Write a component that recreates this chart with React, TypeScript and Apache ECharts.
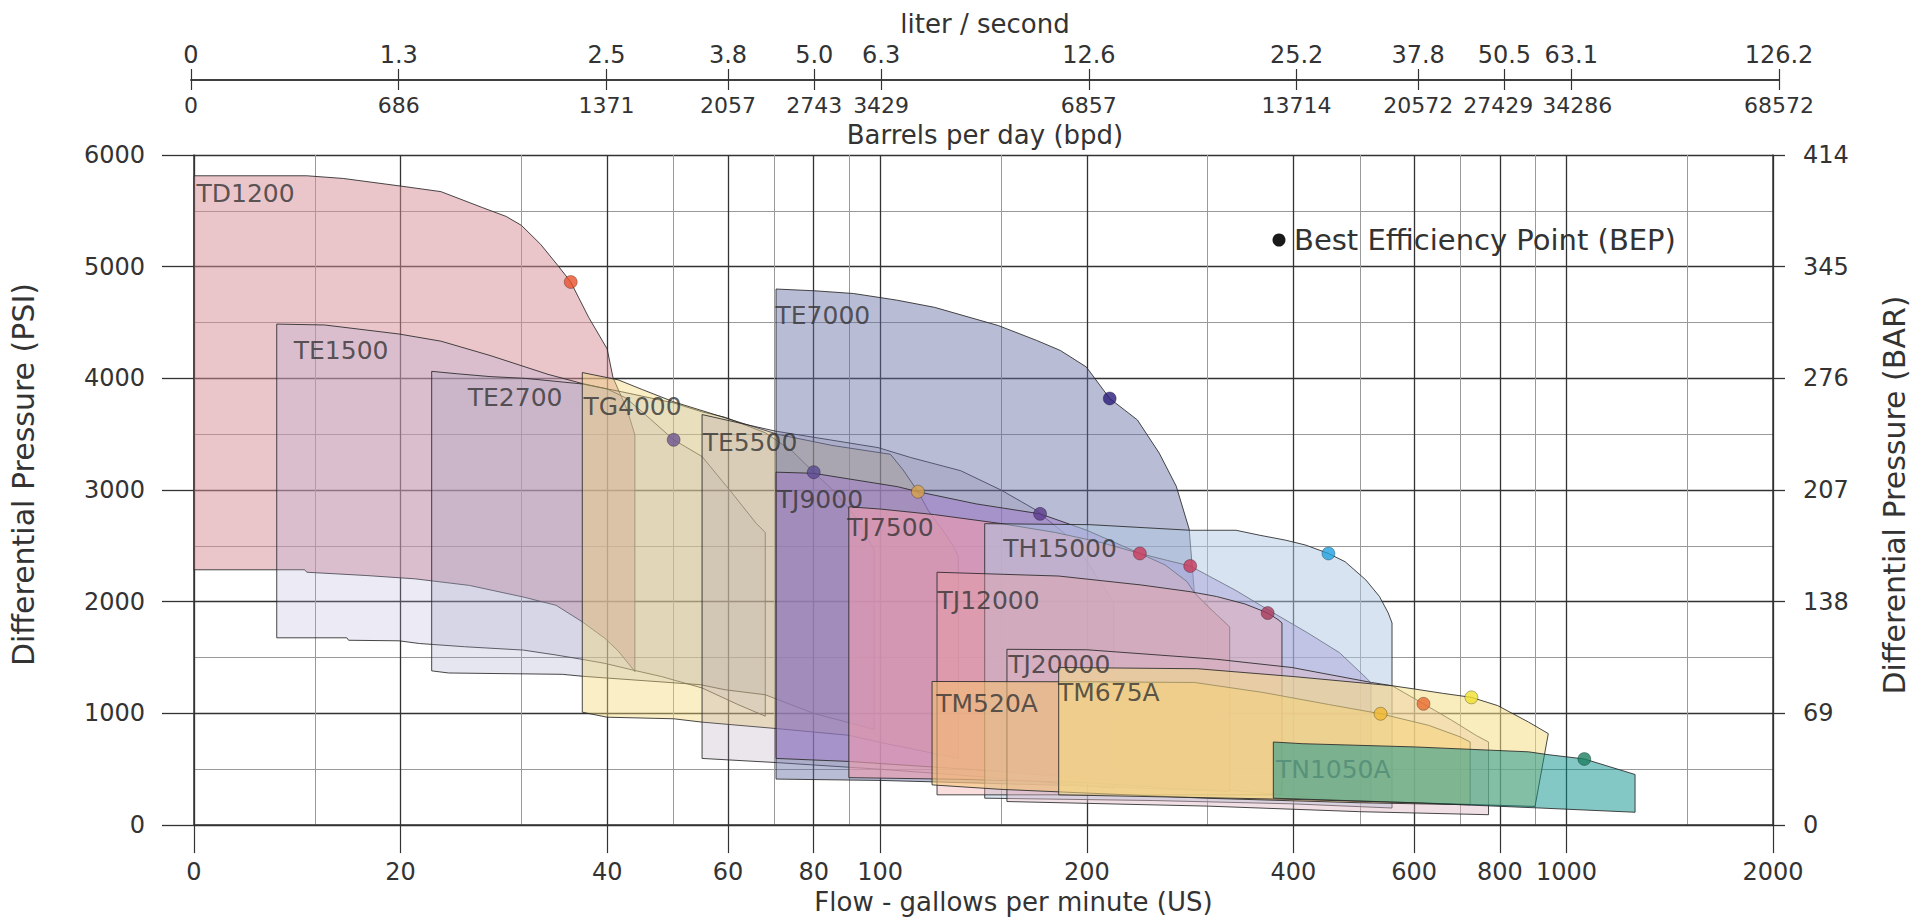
import React, { useEffect, useRef } from "react";
import * as echarts from "echarts";

const FONT = "'DejaVu Sans', 'Liberation Sans', sans-serif";

// ---- axis ticks / labels ----
const GPM_TICKS = [10, 20, 40, 60, 80, 100, 200, 400, 600, 800, 1000, 2000];
const GPM_LABELS = ["0", "20", "40", "60", "80", "100", "200", "400", "600", "800", "1000", "2000"];
const LPS_LABELS = ["0", "1.3", "2.5", "3.8", "5.0", "6.3", "12.6", "25.2", "37.8", "50.5", "63.1", "126.2"];
const BPD_LABELS = ["0", "686", "1371", "2057", "2743", "3429", "6857", "13714", "20572", "27429", "34286", "68572"];
const GPM_MINOR = [15, 30, 50, 70, 90, 150, 300, 500, 700, 900, 1500];
const PSI_TICKS = [0, 1000, 2000, 3000, 4000, 5000, 6000];
const BAR_LABELS = ["0", "69", "138", "207", "276", "345", "414"];

// ---- pump envelopes: [gpm, psi] ----
const TD1200: number[][] = [[10,2286],[10,5814],[14.6,5814],[16.5,5790],[20,5722],[22.9,5672],[26.3,5530],[28.5,5450],[30,5370],[32,5200],[33.9,5011],[35.4,4863],[37.6,4546],[40,4264],[40.8,4006],[42.8,3716],[43.9,3494],[43.9,1375],[41.5,1560],[39.7,1672],[36.8,1820],[33.7,1968],[30.2,2042],[25.2,2146],[21,2205],[17.8,2235],[14.6,2264],[14.5,2286]];
const TE1500: number[][] = [[13.2,1677],[13.2,4486],[15.5,4478],[19.9,4397],[22.9,4333],[27,4205],[32.8,4036],[36.8,3954],[40,3905],[42.6,3824],[45,3700],[50,3450],[55,3300],[60.8,2975],[66,2700],[68,2620],[68,975],[62,1080],[55,1228],[48,1330],[43.5,1390],[39.7,1448],[36.8,1484],[33.7,1523],[30.2,1567],[24.8,1597],[21.3,1626],[19.9,1650],[16.8,1655],[16.7,1677]];
const TE2700: number[][] = [[22.2,1381],[22.2,4063],[24.2,4041],[27,4016],[30.4,4000],[33.7,3973],[36.8,3950],[42,3880],[50,3780],[55,3700],[59.5,3650],[68,3513],[74.4,3350],[80,3160],[86,2980],[92,2760],[96,2560],[98,2470],[98,857],[80,1000],[68,1167],[59.4,1212],[54.7,1257],[39.7,1318],[36.8,1333],[34.4,1350],[23.5,1362]];
const TG4000: number[][] = [[36.8,1011],[36.8,4052],[41.5,3987],[45,3900],[50,3790],[59.5,3646],[71,3498],[85,3400],[103.5,3320],[108,3180],[113.5,2985],[117.5,2818],[124,2620],[128,2492],[130,2403],[130,597],[100,740],[90,804],[71,863],[55,922],[50,952],[40,966]];
const TE5500: number[][] = [[55,597],[55,3676],[70.3,3528],[99.3,3380],[110.8,3291],[131,3173],[150,3000],[169,2818],[171,2787],[185,2620],[198,2403],[216,2047],[219,1988],[219,330],[150,420],[100,500],[70.5,560]];
const TE7000: number[][] = [[70.5,412],[70.5,4800],[80.3,4784],[91.4,4760],[105.6,4701],[120,4636],[148.6,4473],[169,4340],[183,4250],[199.7,4102],[216,3820],[237,3628],[255,3331],[270,3035],[282,2650],[285,2300],[287,2080],[300,1960],[323,1775],[323,300],[200,350],[100,400]];
const TJ9000: number[][] = [[70.5,597],[70.5,3160],[80,3150],[106,3030],[113.5,2985],[138,2876],[171,2787],[200,2640],[239,2432],[262,2370],[283,2320],[330,2100],[367,1930],[420,1720],[467,1544],[513,1307],[519,1270],[519,200],[300,330],[150,480],[90,570]];
const TJ7500: number[][] = [[90,425],[90,2850],[100,2830],[120,2780],[150,2700],[180,2620],[210,2530],[239,2432],[260,2330],[280,2180],[287,2080],[300,1960],[323,1775],[323,300],[200,380],[130,410]];
const TH15000: number[][] = [[142,241],[142,2699],[202,2690],[283,2640],[330,2640],[357.6,2595],[390,2551],[417,2507],[450,2432],[476,2358],[510,2196],[534,2047],[550,1899],[557,1810],[557,153],[400,190],[250,220]];
const TJ12000: number[][] = [[121,271],[121,2264],[182,2230],[240,2150],[283,2090],[309,2047],[340,1980],[367,1899],[380,1840],[385,1810],[385,271]];
const TJ20000: number[][] = [[153,211],[153,1574],[200,1570],[309,1485],[398,1411],[520,1277],[557,1248],[619,1086],[680,940],[740,800],[770,744],[770,93],[500,120],[300,170]];
const TM520A: number[][] = [[119,360],[119,1286],[200,1283],[287,1277],[361,1188],[450,1080],[536,997],[630,893],[700,790],[724,744],[724,182],[500,200],[300,240],[150,320]];
const TM675A: number[][] = [[182,271],[182,1411],[290,1400],[400,1330],[557,1248],[600,1219],[660,1180],[727,1144],[794,1070],[881,922],[941,819],[900,167],[600,200],[400,230]];
const TN1050A: number[][] = [[374,241],[374,744],[412,729],[600,700],[881,656],[937,632],[1062,592],[1259,453],[1259,115],[900,155],[600,200]];

const PUMP_NAMES = ["TD1200","TE1500","TE2700","TG4000","TE5500","TE7000","TJ9000","TJ7500","TH15000","TJ12000","TJ20000","TM520A","TM675A","TN1050A"];
const PUMP_SHAPES = [TD1200, TE1500, TE2700, TG4000, TE5500, TE7000, TJ9000, TJ7500, TH15000, TJ12000, TJ20000, TM520A, TM675A, TN1050A];
const PUMP_FILLS = [
  "rgba(214,140,150,0.5)",
  "rgba(175,170,215,0.25)",
  "rgba(150,155,190,0.25)",
  "rgba(240,215,120,0.42)",
  "rgba(160,140,170,0.22)",
  "rgba(97,106,159,0.45)",
  "rgba(160,115,205,0.45)",
  "rgba(235,155,175,0.65)",
  "rgba(175,200,225,0.5)",
  "rgba(240,160,160,0.35)",
  "rgba(220,180,195,0.42)",
  "rgba(245,195,110,0.55)",
  "rgba(245,222,135,0.55)",
  "rgba(10,145,140,0.5)",
];
// label anchor (top-left of text) [gpm, psi]
const LABEL_POS: number[][] = [[10.1,5761],[14,4359],[25.1,3935],[37,3859],[55.2,3533],[70.5,4674],[70.8,3022],[89.7,2772],[151.4,2587],[121.4,2120],[153.9,1544],[120.9,1196],[181.9,1294],[377.9,609]];

// best efficiency points
const BEP_GPM = [35.4, 50, 80, 113.5, 171, 216, 283, 239, 450, 367, 619, 536, 727, 1062];
const BEP_PSI = [4863, 3450, 3160, 2985, 2787, 3820, 2320, 2432, 2432, 1899, 1086, 997, 1144, 592];
const BEP_COLORS = ["#e8502a","#6b5590","#5a4a90","#d8a048","#5a3a8a","#2a1a7a","#c83a5a","#c83a5a","#20a0e0","#a83a5a","#e86a30","#f0b830","#f0e030","#1a8060"];

const X_MIN = 1;
const X_MAX = Math.log10(2000);

function lookup(ticks: number[], labels: string[]) {
  return (v: number) => {
    for (let i = 0; i < ticks.length; i++) {
      if (Math.abs(Math.log10(ticks[i]) - v) < 1e-6) return labels[i];
    }
    return "";
  };
}

export default function App() {
  const ref = useRef<HTMLDivElement>(null);
  useEffect(() => {
    document.body.style.margin = "0";
    if (!ref.current) return;
    const chart = echarts.init(ref.current, undefined, { renderer: "svg" });
    const major = GPM_TICKS.map((v) => Math.log10(v));
    const minor = GPM_MINOR.map((v) => Math.log10(v));
    const labelBase = { fontFamily: FONT, fontSize: 24, color: "#333" };
    const bpdText = lookup(GPM_TICKS, BPD_LABELS);

    const option: any = {
      animation: false,
      textStyle: { fontFamily: FONT },
      grid: [
        { left: 191, right: 138, top: 155, bottom: 89.5 },
        { left: 191, right: 138, top: 79, height: 1 },
      ],
      xAxis: [
        {
          type: "value", gridIndex: 0, min: X_MIN, max: X_MAX, position: "bottom",
          name: "Flow - gallows per minute (US)", nameLocation: "middle", nameGap: 62,
          nameTextStyle: { fontSize: 26, color: "#333", padding: [0, 0, 0, 60] },
          axisLine: { show: true, lineStyle: { color: "#333", width: 1.5 } },
          axisTick: { show: true, length: 28, customValues: major, lineStyle: { color: "#333", width: 1.2 } },
          axisLabel: { ...labelBase, customValues: major, margin: 35, formatter: lookup(GPM_TICKS, GPM_LABELS) },
          splitLine: { show: true, lineStyle: { color: "#333", width: 1.3 } },
        },
        {
          type: "value", gridIndex: 0, min: X_MIN, max: X_MAX, position: "bottom",
          axisLine: { show: false },
          axisTick: { show: false, customValues: minor },
          axisLabel: { show: false, customValues: minor },
          splitLine: { show: true, lineStyle: { color: "#999", width: 1 } },
        },
        {
          type: "value", gridIndex: 1, min: X_MIN, max: X_MAX, position: "top",
          name: "liter / second", nameLocation: "middle", nameGap: 42,
          nameTextStyle: { fontSize: 26, color: "#333" },
          axisLine: { show: true, lineStyle: { color: "#333", width: 1.5 } },
          axisTick: { show: true, length: 11, customValues: major, lineStyle: { color: "#333", width: 1.2 } },
          axisLabel: { ...labelBase, customValues: major, margin: 12, formatter: lookup(GPM_TICKS, LPS_LABELS) },
          splitLine: { show: false },
        },
        {
          type: "value", gridIndex: 1, min: X_MIN, max: X_MAX, position: "bottom",
          name: "Barrels per day (bpd)", nameLocation: "middle", nameGap: 42,
          nameTextStyle: { fontSize: 26, color: "#333" },
          axisLine: { show: true, lineStyle: { color: "#333", width: 1.5 } },
          axisTick: { show: true, length: 10, customValues: major, lineStyle: { color: "#333", width: 1.2 } },
          axisLabel: {
            ...labelBase, fontSize: 22, customValues: major, margin: 14,
            formatter: (v: number) => {
              const s = bpdText(v);
              if (s === "27429") return "{l|" + s + "}";
              if (s === "34286") return "{r|" + s + "}";
              return s;
            },
            rich: {
              l: { fontFamily: FONT, fontSize: 22, color: "#333", padding: [0, 12, 0, 0] },
              r: { fontFamily: FONT, fontSize: 22, color: "#333", padding: [0, 0, 0, 12] },
            },
          },
          splitLine: { show: false },
        },
      ],
      yAxis: [
        {
          type: "value", gridIndex: 0, min: 0, max: 6000, interval: 1000, position: "left",
          name: "Differential Pressure (PSI)", nameLocation: "middle", nameGap: 156, nameRotate: 90,
          nameTextStyle: { fontSize: 30, color: "#333", padding: [0, 0, 0, 31] },
          axisLine: { show: true, lineStyle: { color: "#333", width: 1.5 } },
          axisTick: { show: true, length: 32, lineStyle: { color: "#333", width: 1.3 } },
          axisLabel: { ...labelBase, margin: 49, formatter: (v: number) => String(v) },
          splitLine: { show: true, lineStyle: { color: "#333", width: 1.3 } },
          minorTick: { show: false, splitNumber: 2 },
          minorSplitLine: { show: true, lineStyle: { color: "#999", width: 1 } },
        },
        {
          type: "value", gridIndex: 0, min: 0, max: 6000, interval: 1000, position: "right",
          name: "Differential Pressure (BAR)", nameLocation: "middle", nameGap: 106, nameRotate: 90,
          nameTextStyle: { fontSize: 30, color: "#333", padding: [0, 10, 0, 0] },
          axisLine: { show: true, lineStyle: { color: "#333", width: 1.5 } },
          axisTick: { show: true, length: 12, lineStyle: { color: "#333", width: 1.3 } },
          axisLabel: { ...labelBase, margin: 30, formatter: (v: number) => BAR_LABELS[PSI_TICKS.indexOf(v)] ?? "" },
          splitLine: { show: false },
        },
        { type: "value", gridIndex: 1, show: false, min: 0, max: 1 },
      ],
      graphic: [
        { type: "circle", shape: { cx: 1279, cy: 240, r: 6.5 }, style: { fill: "#1a1a1a" }, z: 10 },
        {
          type: "text", x: 1294, y: 240, z: 10,
          style: { text: "Best Efficiency Point (BEP)", fontFamily: FONT, fontSize: 29, fill: "#333", verticalAlign: "middle" },
        },
      ],
      series: [
        {
          type: "custom", xAxisIndex: 0, yAxisIndex: 0, silent: true, z: 2,
          data: PUMP_NAMES.map((n, i) => ({ name: n, value: [X_MIN, 0, i] })),
          renderItem: (params: any, api: any) => {
            const i = params.dataIndex;
            const pts = PUMP_SHAPES[i].map(([g, p]) => api.coord([Math.log10(g), p]));
            return {
              type: "polygon",
              shape: { points: pts },
              style: { fill: PUMP_FILLS[i], stroke: "rgba(40,40,40,0.85)", lineWidth: 1 },
            };
          },
        },
        {
          type: "scatter", xAxisIndex: 0, yAxisIndex: 0, silent: true, z: 4,
          symbolSize: 1,
          itemStyle: { color: "transparent" },
          label: {
            show: true, formatter: "{b}", position: [0, 0],
            fontFamily: FONT, fontSize: 25, color: "#333",
          },
          data: PUMP_NAMES.map((n, i) => ({
            name: n,
            value: [Math.log10(LABEL_POS[i][0]), LABEL_POS[i][1]],
            label: n === "TN1050A" ? { color: "#4f8a76" } : undefined,
          })),
        },
        {
          type: "scatter", xAxisIndex: 0, yAxisIndex: 0, silent: true, z: 5,
          symbol: "circle", symbolSize: 13,
          data: BEP_GPM.map((g, i) => ({
            value: [Math.log10(g), BEP_PSI[i]],
            itemStyle: { color: BEP_COLORS[i], borderColor: "rgba(0,0,0,0.35)", borderWidth: 1 },
          })),
        },
      ],
    };
    chart.setOption(option);
    return () => chart.dispose();
  }, []);
  return <div ref={ref} style={{ width: 1917, height: 920 }} />;
}
